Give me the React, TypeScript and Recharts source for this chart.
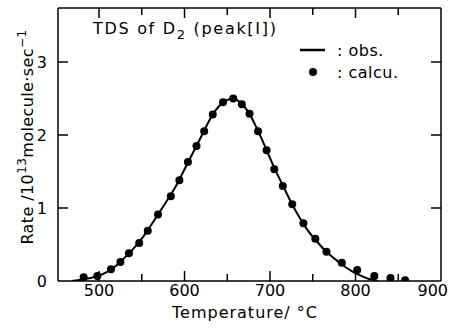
import React from 'react';
import { ComposedChart, Line, Scatter, XAxis, YAxis, Legend } from 'recharts';

const FONT = '"DejaVu Sans", sans-serif';

const obsTemp = [468, 480, 490, 500, 510, 520, 530, 540, 550, 560, 570, 580, 590, 600, 610, 620, 630, 640, 650, 656, 665, 675, 685, 695, 705, 715, 725, 735, 745, 755, 765, 775, 785, 795, 805, 815, 826];
const obsRate = [0, 0.02, 0.04, 0.075, 0.13, 0.21, 0.32, 0.44, 0.58, 0.75, 0.93, 1.11, 1.3, 1.53, 1.76, 1.99, 2.22, 2.39, 2.48, 2.5, 2.45, 2.31, 2.08, 1.82, 1.55, 1.31, 1.07, 0.86, 0.68, 0.54, 0.41, 0.31, 0.22, 0.14, 0.08, 0.03, 0];

// calculated points
const calcTemp = [482, 498, 514, 525, 535, 547, 557, 569, 584, 594, 604, 614, 623, 633, 645, 657, 667, 676, 686, 696, 705, 715, 726, 739, 753, 766, 784, 802, 822, 841, 858];
const calcRate = [0.05, 0.07, 0.16, 0.26, 0.38, 0.52, 0.69, 0.91, 1.16, 1.38, 1.63, 1.85, 2.05, 2.28, 2.45, 2.5, 2.42, 2.29, 2.05, 1.79, 1.53, 1.3, 1.05, 0.79, 0.58, 0.4, 0.25, 0.15, 0.07, 0.04, 0.01];

const tempTicks = [500, 550, 600, 650, 700, 750, 800, 850, 900];
const rateTicks = [0, 1, 2, 3];

const obsData = obsTemp.map((t, i) => ({ t, r: obsRate[i] }));
const calcData = calcTemp.map((t, i) => ({ t, r: calcRate[i] }));

const tickText = { fontFamily: FONT, fontSize: 16, fill: '#000' };

function BottomTick({ x, y, payload }: any) {
  const major = payload.value % 100 === 0;
  const last = payload.value === 900;
  return (
    <g>
      {!last && <line x1={x} y1={y} x2={x} y2={y - (major ? 10 : 7)} stroke="#000" strokeWidth={1.5} />}
      {major && (
        <text x={last ? x + 7 : x} y={y + 15} textAnchor={last ? 'end' : 'middle'} {...tickText}>
          {payload.value}
        </text>
      )}
    </g>
  );
}

function TopTick({ x, y, payload }: any) {
  if (payload.value === 900) return null;
  const major = payload.value % 100 === 0;
  return <line x1={x} y1={y} x2={x} y2={y + (major ? 10 : 7)} stroke="#000" strokeWidth={1.5} />;
}

function LeftTick({ x, y, payload }: any) {
  return (
    <g>
      {payload.value !== 0 && <line x1={x} y1={y} x2={x + 10} y2={y} stroke="#000" strokeWidth={1.5} />}
      <text x={x - 11} y={y + 6} textAnchor="end" {...tickText}>
        {payload.value}
      </text>
    </g>
  );
}

function RightTick({ x, y, payload }: any) {
  if (payload.value === 0) return null;
  return <line x1={x} y1={y} x2={x - 10} y2={y} stroke="#000" strokeWidth={1.5} />;
}

function LegendBox() {
  const row = { display: 'flex', alignItems: 'center', height: 22 };
  const txt = { fontFamily: FONT, fontSize: 16, letterSpacing: 0.5, color: '#000' };
  return (
    <div>
      <div style={row}>
        <svg width={37} height={22}>
          <line x1={0} y1={11} x2={25} y2={11} stroke="#000" strokeWidth={2.5} />
        </svg>
        <span style={txt}>: obs.</span>
      </div>
      <div style={row}>
        <svg width={37} height={22}>
          <circle cx={13} cy={11} r={4} fill="#000" />
        </svg>
        <span style={txt}>: calcu.</span>
      </div>
    </div>
  );
}

export default function App() {
  const axisLine = { stroke: '#000', strokeWidth: 1.5 };
  return (
    <div style={{ position: 'absolute', left: 0, top: 0, width: 456, height: 332, background: '#fff', fontFamily: FONT }}>
      <ComposedChart width={456} height={332} margin={{ top: 7, right: 14, bottom: 0, left: 0 }}>
        <XAxis dataKey="t" type="number" domain={[452, 900]} allowDataOverflow ticks={tempTicks} interval={0}
          height={51} tickSize={0} tickMargin={0} tickLine={false} axisLine={axisLine} tick={<BottomTick />} />
        <XAxis xAxisId="top" dataKey="t" orientation="top" type="number" domain={[452, 900]} allowDataOverflow ticks={tempTicks}
          interval={0} height={1} tickSize={0} tickMargin={0} tickLine={false} axisLine={axisLine} tick={<TopTick />} />
        <YAxis dataKey="r" type="number" domain={[0, 3.74]} allowDataOverflow ticks={rateTicks} interval={0}
          width={58} tickSize={0} tickMargin={0} tickLine={false} axisLine={axisLine} tick={<LeftTick />} />
        <YAxis yAxisId="right" dataKey="r" orientation="right" type="number" domain={[0, 3.74]} allowDataOverflow ticks={rateTicks}
          interval={0} width={1} tickSize={0} tickMargin={0} tickLine={false} axisLine={axisLine} tick={<RightTick />} />
        <Legend content={() => <LegendBox />} layout="horizontal" verticalAlign="middle" align="center"
          wrapperStyle={{ left: 300, top: 39, width: 'auto' }} />
        {/* invisible copy so the top and right frame axes get a scale */}
        <Line data={obsData} xAxisId="top" yAxisId="right" dataKey="r" stroke="none" dot={false}
          legendType="none" isAnimationActive={false} />
        <Line data={obsData} dataKey="r" type="monotone" stroke="#000" strokeWidth={2} dot={false} isAnimationActive={false} />
        <Scatter data={calcData} dataKey="r" fill="#000" isAnimationActive={false}
          shape={(p: any) => <circle cx={p.cx} cy={p.cy} r={4} fill="#000" />} />
      </ComposedChart>

      <div style={{ position: 'absolute', left: 93, top: 19, fontSize: 16, letterSpacing: 1.7, whiteSpace: 'nowrap', lineHeight: '20px' }}>
        TDS of D<sub style={{ fontSize: 13, lineHeight: 0, verticalAlign: -5 }}>2</sub> (peak[I])
      </div>

      <div style={{ position: 'absolute', left: -92, top: 127, width: 240, height: 20, lineHeight: '20px', textAlign: 'center',
        transform: 'rotate(-90deg)', fontSize: 16, letterSpacing: 0.4, whiteSpace: 'nowrap' }}>
        Rate /10<sup style={{ fontSize: 12, lineHeight: 0, verticalAlign: 7 }}>13</sup>molecule·sec<sup style={{ fontSize: 12, lineHeight: 0, verticalAlign: 7 }}>−1</sup>
      </div>

      <div style={{ position: 'absolute', left: 170, top: 303, width: 150, textAlign: 'center', fontSize: 16, letterSpacing: 1,
        whiteSpace: 'nowrap', lineHeight: '20px' }}>
        Temperature/ °C
      </div>
    </div>
  );
}
